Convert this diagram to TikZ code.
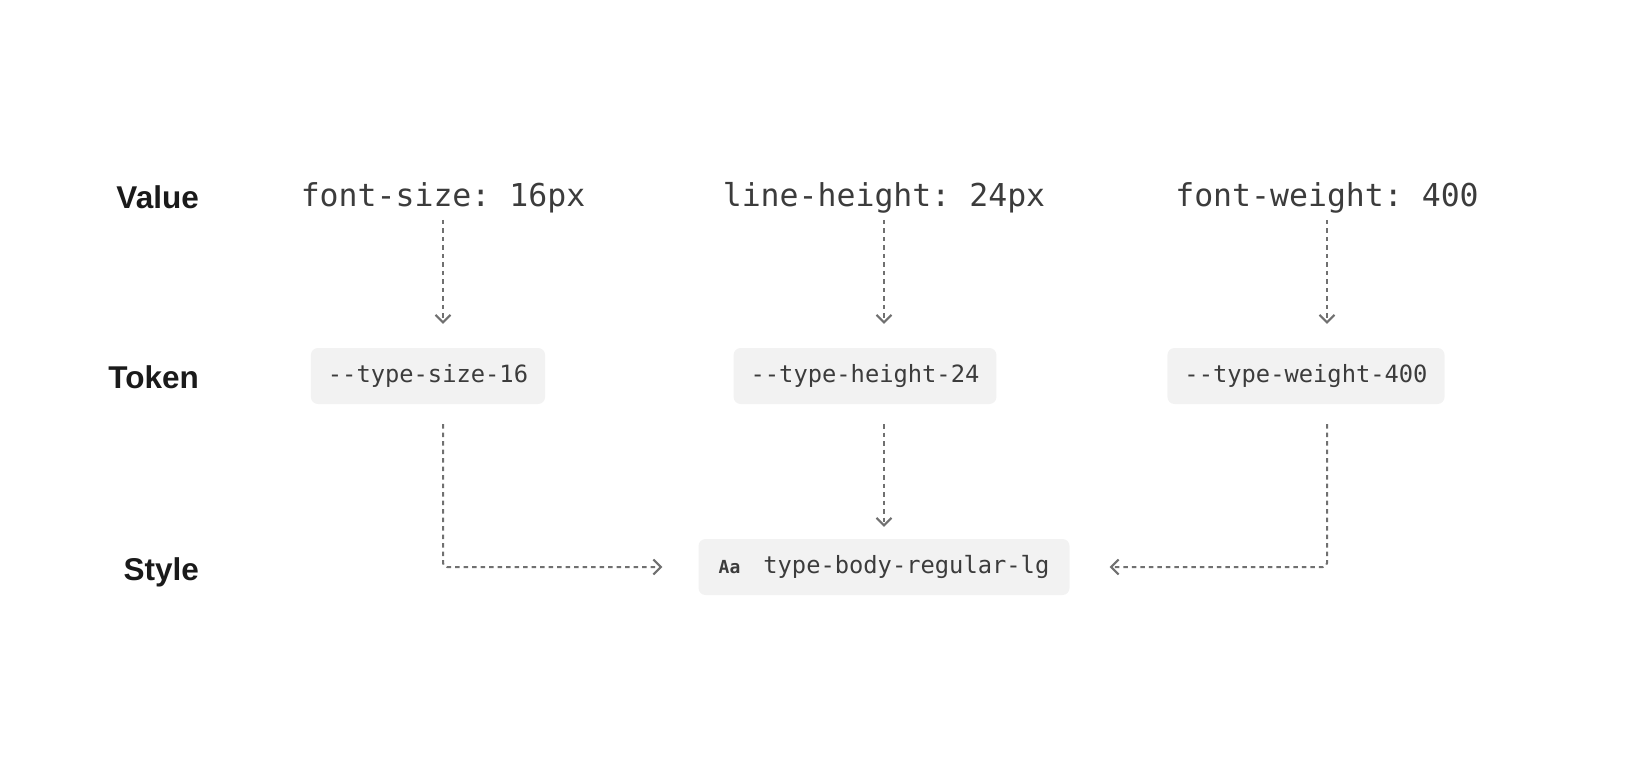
\documentclass[tikz,border=0pt]{standalone}
\usepackage{fontspec}
\setmainfont{Liberation Sans}
\setmonofont{DejaVu Sans Mono}
\usetikzlibrary{arrows.meta}
\definecolor{ink}{HTML}{1A1A1A}
\definecolor{code}{HTML}{3C3C3C}
\definecolor{chip}{HTML}{F2F2F2}
\definecolor{wire}{HTML}{707070}

\begin{document}
\begin{tikzpicture}[x=1pt,y=-1pt,
  rowlabel/.style={anchor=base east, inner sep=0pt, text=ink, font=\fontsize{31.5}{36}\selectfont\bfseries},
  valtext/.style={anchor=base, inner sep=0pt, text=code, font=\ttfamily\fontsize{31.5}{36}\selectfont},
  tokbox/.style={fill=chip, rounded corners=7pt, minimum height=56pt, inner xsep=17pt, text=code, font=\ttfamily\fontsize{23.75}{28}\selectfont},
  flow/.style={draw=wire, line width=2pt, dash pattern=on 4.5pt off 4pt, rounded corners=4pt, -{Straight Barb[length=7.5pt,width=15pt]}}]

\useasboundingbox (0,0) rectangle (1632,766);

% row labels
\node[rowlabel] (lvalue) at (199,208) {Value};
\node[rowlabel] (ltoken) at (199,388) {Token};
\node[rowlabel] (lstyle) at (199,580) {Style};

% values
\node[valtext] (vsize)   at (443,206)  {font-size: 16px};
\node[valtext] (vheight) at (884,206)  {line-height: 24px};
\node[valtext] (vweight) at (1327,206) {font-weight: 400};

% tokens
\node[tokbox] (tsize)   at (428,376)  {-{}-type-size-16};
\node[tokbox] (theight) at (865,376)  {-{}-type-height-24};
\node[tokbox] (tweight) at (1306,376) {-{}-type-weight-400};

% style
\node[tokbox, minimum width=371pt] (sbody) at (884,567) {{\bfseries\fontsize{18}{20}\selectfont Aa}\hspace{23pt}type-body-regular-lg};

\draw[flow, shorten <=7pt, shorten >=24pt] (vsize.south) -- (vsize.south |- tsize.north);
\draw[flow, shorten <=7pt, shorten >=24pt] (vheight.south) -- (vheight.south |- theight.north);
\draw[flow, shorten <=7pt, shorten >=24pt] (vweight.south) -- (vweight.south |- tweight.north);

\draw[flow, shorten <=20pt, shorten >=36pt] (vsize.south |- tsize.south) |- (sbody.west);
\draw[flow, shorten <=20pt, shorten >=12pt] (vheight.south |- theight.south) -- (vheight.south |- sbody.north);
\draw[flow, shorten <=20pt, shorten >=40pt] (vweight.south |- tweight.south) |- (sbody.east);
\end{tikzpicture}
\end{document}
